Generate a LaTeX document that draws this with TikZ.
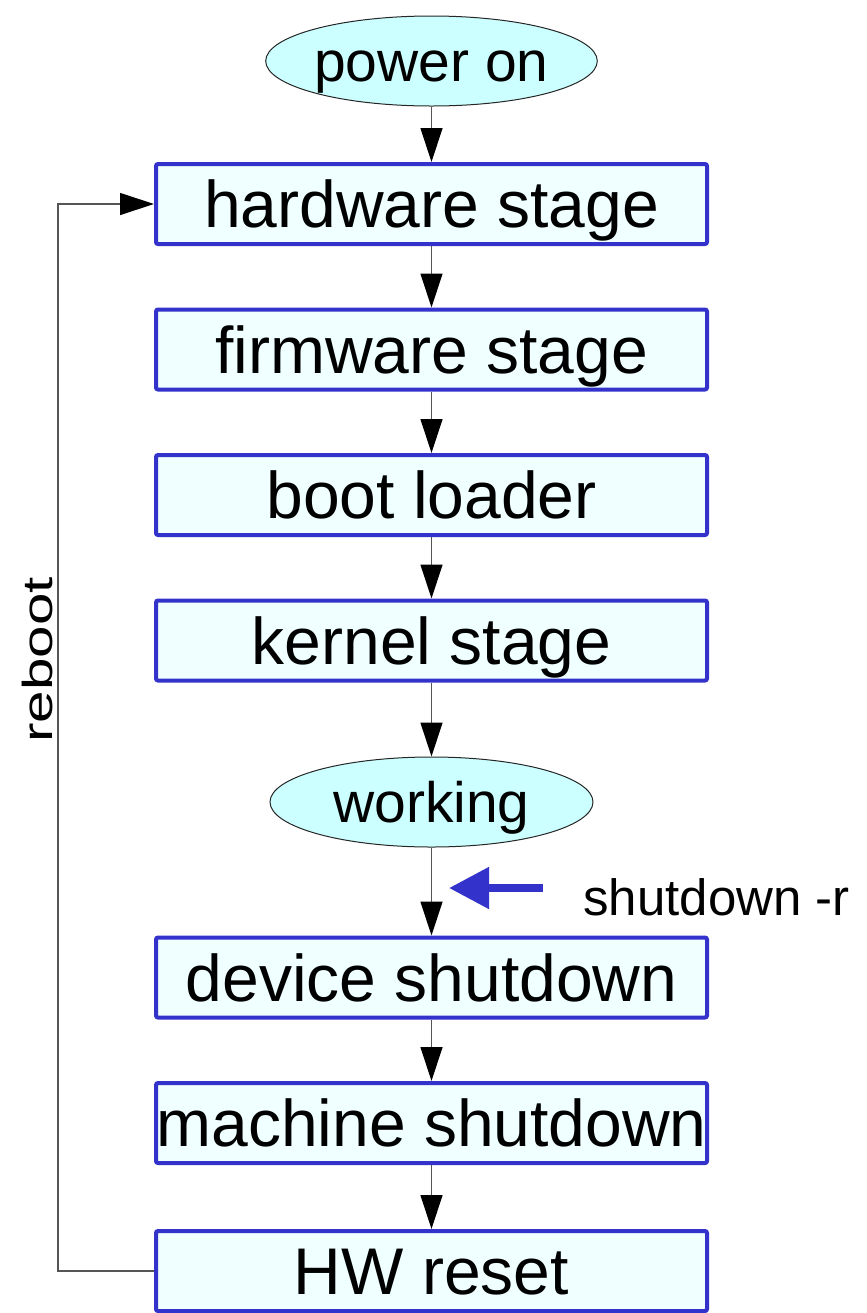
\documentclass[tikz,border=0pt]{standalone}
\usepackage{fontspec}
\usepackage{graphicx}
\setmainfont{Liberation Sans}
\usetikzlibrary{shapes.geometric,arrows.meta}

\definecolor{boxblue}{HTML}{3333CC}
\definecolor{boxfill}{HTML}{F0FFFF}
\definecolor{ovalfill}{HTML}{CCFFFF}
\definecolor{wire}{HTML}{555555}

\tikzset{
  stagebox/.style={draw=boxblue, line width=2pt, fill=boxfill, rounded corners=1pt,
    minimum width=275.5pt, minimum height=40pt, inner sep=0pt,
    font=\fontsize{33}{40}\selectfont, text height=29.7pt, text depth=5.9pt},
  stateoval/.style={ellipse, draw=black!85, line width=0.5pt, fill=ovalfill,
    minimum width=161.5pt, minimum height=45pt, inner sep=0pt,
    font=\fontsize{28.5}{34}\selectfont, text height=25.6pt, text depth=5.1pt},
  flow/.style={draw=wire, line width=0.6pt, -{Triangle[length=17pt,width=11pt,fill=black,color=black]}},
}

\begin{document}
\begin{tikzpicture}[x=0.5pt,y=-0.5pt]
  \path[use as bounding box] (0,0) rectangle (867,1313);
  \clip (0,0) rectangle (867,1313);

  % boot sequence
  \node[stateoval] (on)   at (431.5,61)   {power on};
  \node[stagebox]  (hw)   at (431.5,204)  {hardware stage};
  \node[stagebox]  (fw)   at (431.5,349.5){firmware stage};
  \node[stagebox]  (bl)   at (431.5,495)  {boot loader};
  \node[stagebox]  (kern) at (431.5,640.5){kernel stage};
  \node[stateoval] (work) at (431.5,802)  {working};
  \node[stagebox]  (dev)  at (431.5,977.5){device shutdown};
  \node[stagebox]  (mach) at (431.5,1123) {machine shutdown};
  \node[stagebox]  (rst)  at (431.5,1271) {HW reset};

  \draw[flow] (on) -- (hw);
  \draw[flow] (hw) -- (fw);
  \draw[flow] (fw) -- (bl);
  \draw[flow] (bl) -- (kern);
  \draw[flow] (kern) -- (work);
  \draw[flow] (work) -- (dev);
  \draw[flow] (dev) -- (mach);
  \draw[flow] (mach) -- (rst);

  % reboot loop back to the hardware stage
  \coordinate (loopx) at (58,0);
  \draw[flow] (rst.west) -- (rst.west -| loopx) -- (hw.west -| loopx) -- (hw.west);
  \node[rotate=90, anchor=base, inner sep=0pt, font=\fontsize{21}{25}\selectfont]
    (rebootlbl) at (53,660) {\scalebox{1.39}[1]{reboot}};

  % shutdown -r trigger
  \coordinate (trigfrom) at (543,888);
  \coordinate (trigto) at (449,888);
  \draw[draw=boxblue, line width=4pt,
        -{Triangle[length=20pt,width=20pt,fill=boxblue,color=boxblue]}] (trigfrom) -- (trigto);
  \node[anchor=base west, inner sep=0pt, font=\fontsize{25.5}{30}\selectfont]
    (trig) at (583,915) {shutdown -r};
\end{tikzpicture}
\end{document}
